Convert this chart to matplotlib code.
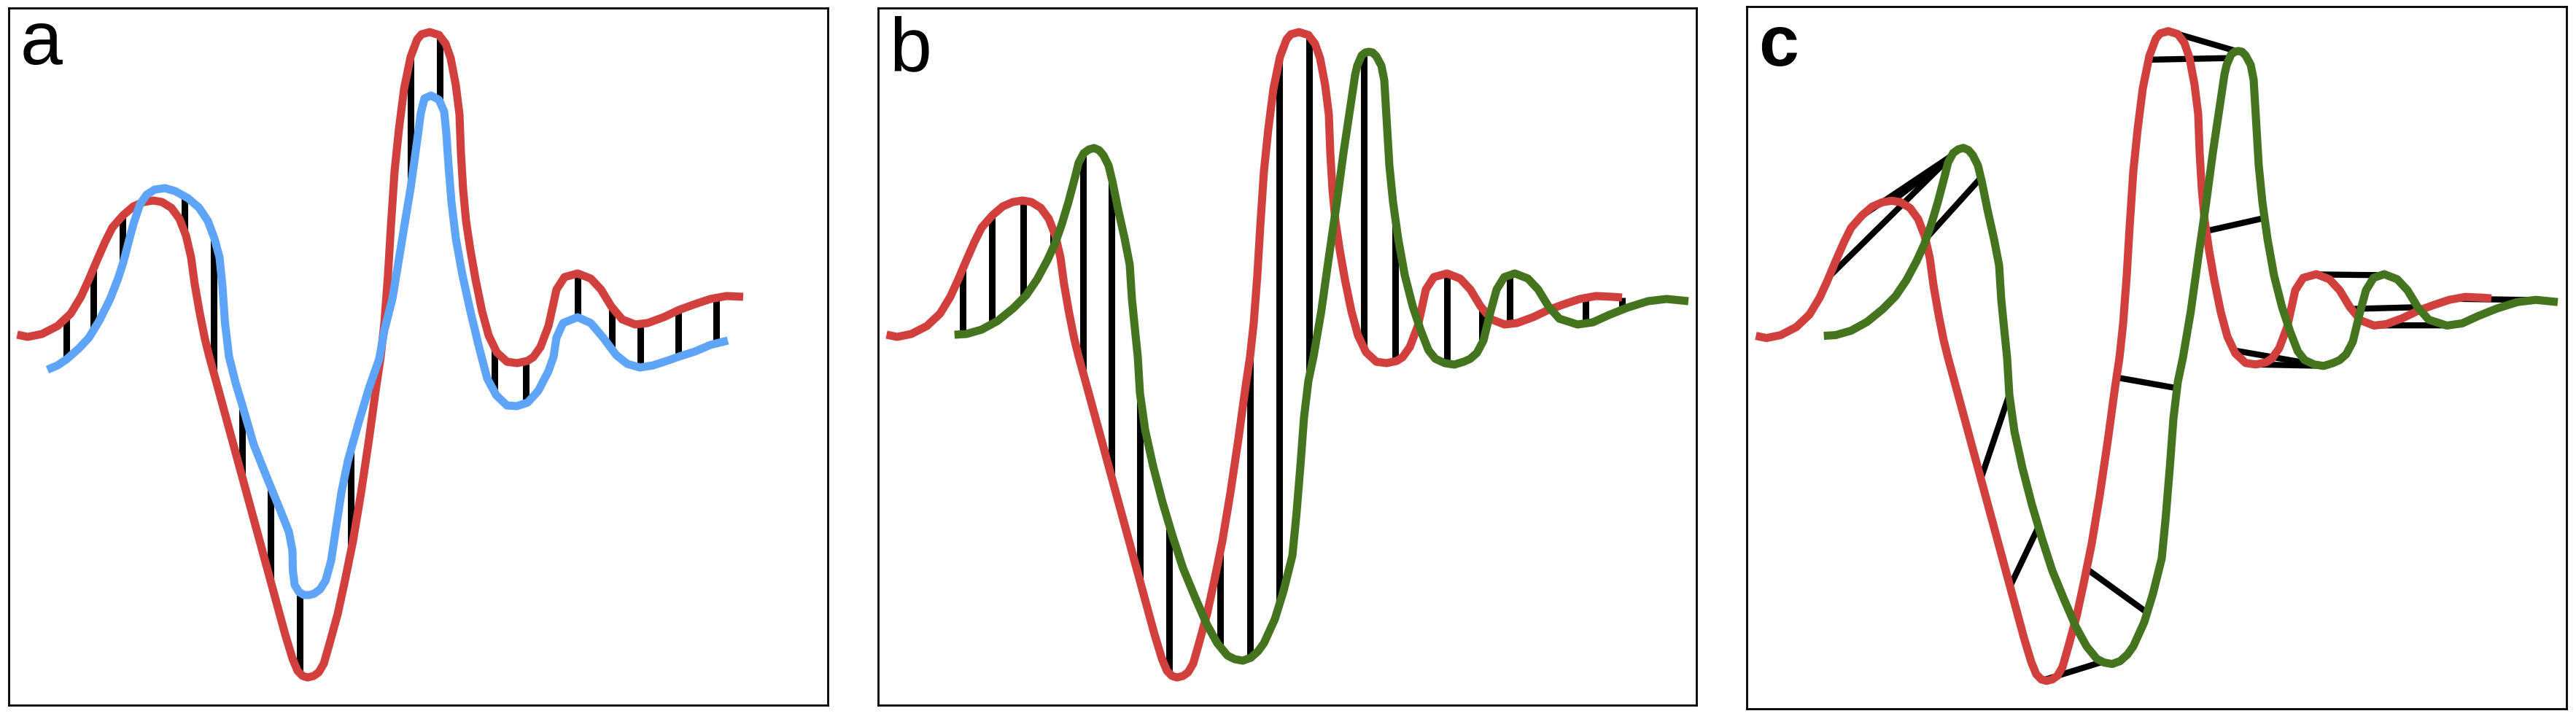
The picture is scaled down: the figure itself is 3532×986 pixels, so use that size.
import matplotlib
matplotlib.use("Agg")
import matplotlib.pyplot as plt
from matplotlib.collections import LineCollection
import numpy as np

# ---------------- data (time in samples, amplitude in arbitrary units) ----------------
red_t = [12.5, 27, 46.6, 68, 86, 100, 111, 122, 133, 143,
         158, 172, 186, 199, 211, 224, 235, 244, 251, 256,
         263, 270, 276, 290, 305, 320, 335, 350, 365, 380,
         390, 397, 404, 411, 419, 426, 433, 441, 452, 462,
         473, 484, 495, 505, 511, 516, 521, 525, 530, 536,
         543, 552, 561, 567, 578, 591, 600, 607, 614, 619,
         621, 624, 628, 634, 641, 650, 659, 670, 684, 698,
         712, 720, 730, 741, 747, 752, 763, 781, 799, 813,
         827, 842, 860, 877, 899, 920, 942, 963, 985, 1008,
         1021]
red_v = [1, -2, 2, 13, 30, 53, 77, 103, 128, 148,
         165, 177, 183, 185, 183, 175, 160, 137, 107, 70,
         30, -5, -29, -80, -135, -190, -245, -300, -355, -410,
         -443, -460, -467, -469, -467, -462, -450, -422, -382, -336,
         -282, -216, -142, -69, -29, 17, 83, 150, 225, 283,
         338, 382, 406, 413, 416, 412, 400, 380, 343, 303,
         250, 200, 157, 117, 77, 33, 0, -23, -36, -38,
         -35, -30, -16, 13, 40, 63, 80, 85, 78, 63,
         40, 22, 15, 17, 25, 35, 43, 50, 54, 53,
         52]

blue_t = [54, 68, 80, 97, 111, 125, 140, 150.5, 158, 165,
          172, 181, 190, 201, 215, 229, 247, 262, 274, 283,
          290, 294, 297.5, 303, 312, 321, 337, 355, 373, 385,
          390, 390.5, 393, 399, 406, 413, 420, 428, 435.5, 443,
          450, 457, 466, 480, 495, 509, 516, 527, 538, 545,
          552, 557, 562, 566, 571, 580, 591, 598, 601, 604,
          608, 614, 623, 634, 646, 657, 669.5, 684, 697.5, 712.5,
          727, 741, 748, 752, 761, 781, 799, 816, 834, 849,
          866.6, 884.6, 906, 920, 942, 963, 987]
blue_v = [-47, -41, -33, -18, -3, 20, 50, 77, 100, 127,
          153, 180, 193, 200, 202, 198, 188, 175, 157, 133,
          107, 67, 17, -29, -65, -95, -150, -195, -239, -269,
          -295, -322, -342, -352, -356, -356, -354, -348, -336, -309,
          -262, -216, -172, -122, -72, -32, 7, 50, 117, 160,
          202, 238, 275, 305, 325, 329, 323, 307, 277, 233,
          183, 133, 83, 33, -17, -59, -82, -96, -97, -92,
          -76, -49, -29, -3, 17, 25, 17, -3, -27, -39,
          -44, -41, -34, -29, -22, -13, -7]

green_t = [105.7, 122, 143, 165, 186, 204, 219, 233, 244, 253,
           262, 271, 276, 283, 290, 297, 304, 310, 317, 322.5,
           330, 339, 346, 349, 353, 357, 360, 367, 378, 391,
           405, 419, 435.5, 451.6, 466, 480, 490, 501, 512, 522,
           530, 545, 557, 562, 569, 574.5, 580, 585, 591, 598,
           608.6, 619, 630, 639, 648, 655, 658, 664, 669, 674,
           679, 684, 691, 695, 698, 702, 707, 714, 723, 734,
           745, 755.5, 765, 778, 791, 804, 813, 822, 831, 840,
           849, 859.5, 874, 892, 906, 920, 935, 960, 981, 1003,
           1028, 1056.6, 1082, 1112]
green_v = [1, 2, 8, 20, 37, 55, 77, 103, 127, 153,
           183, 217, 237, 250, 255, 257, 254, 247, 233, 210,
           173, 133, 97, 50, 10, -29, -79, -129, -179, -229,
           -276, -319, -359, -396, -422, -439, -444, -446, -442, -433,
           -422, -389, -350, -330, -302, -246, -179, -112, -62, -29,
           33, 107, 183, 250, 310, 357, 370, 384, 388, 389,
           388, 383, 370, 350, 300, 233, 183, 133, 83, 40,
           7, -20, -32, -38, -40, -36, -32, -24, -7, 30,
           63, 80, 85, 78, 63, 40, 23, 15, 18, 28,
           38, 47, 50, 47]

# sample times joined by straight vertical lines (panels a, b)
a_lines_t = [80, 117, 157, 242, 282, 321, 360, 400, 470, 552,
             592, 667, 710, 781, 828, 867, 919, 971]
b_lines_t = [117, 157, 200, 241, 282, 321, 360, 400, 470, 511,
             551, 592, 667, 710, 781, 829, 867, 971, 1021]

# warping path pairs (panel c): red sample time -> green sample time
c_red_t = [113, 157, 200, 245, 321, 361, 407, 466, 507, 551,
           586, 630, 668, 698, 782, 829, 862, 971]
c_green_t = [281, 281, 281, 321, 360, 400, 488, 549, 590, 662,
             672, 710, 786, 790, 870, 920, 962, 1080]

panel_labels = ["a", "b", "c"]

# ---------------- styling ----------------
W, H, DPI = 3532, 987, 100
RED = "#D1403D"
BLUE = "#5EA4F9"
GREEN = "#45741F"
CURVE_LW = 8.0
LINK_LW = 6.5
WARP_LW = 6.0
FRAME_LW = 2.0
RED_END_A = 1008

fig = plt.figure(figsize=(W / DPI, H / DPI), dpi=DPI)
fig.patch.set_facecolor("white")


def px_axes(left, right, top, bottom):
    return fig.add_axes([left / W, 1 - bottom / H, (right - left) / W, (bottom - top) / H])


ax_a = px_axes(12, 1135, 11.5, 968)
ax_b = px_axes(1204, 2326, 11.5, 968)
ax_c = px_axes(2395, 3519, 10, 973)

ax_a.set_xlim(1, 1124)
ax_b.set_xlim(1, 1123)
ax_c.set_xlim(0, 1124)
for ax in (ax_a, ax_b, ax_c):
    ax.set_ylim(-507, 449.5)
    ax.set_xticks([])
    ax.set_yticks([])
    for s in ax.spines.values():
        s.set_linewidth(FRAME_LW)
        s.set_color("black")

red_t_arr = np.array(red_t, dtype=float)
red_v_arr = np.array(red_v, dtype=float)


def curve(ax, t, v, color, z):
    ax.plot(t, v, color=color, lw=CURVE_LW, solid_capstyle="butt",
            solid_joinstyle="round", zorder=z)


# panel a
ya1 = np.interp(a_lines_t, red_t, red_v)
ya2 = np.interp(a_lines_t, blue_t, blue_v)
ax_a.vlines(a_lines_t, ya1, ya2, color="black", lw=LINK_LW, zorder=1)
mask = red_t_arr <= RED_END_A
curve(ax_a, red_t_arr[mask], red_v_arr[mask], RED, 2)
curve(ax_a, blue_t, blue_v, BLUE, 3)

# panel b
yb1 = np.interp(b_lines_t, red_t, red_v)
yb2 = np.interp(b_lines_t, green_t, green_v)
ax_b.vlines(b_lines_t, yb1, yb2, color="black", lw=LINK_LW, zorder=1)
curve(ax_b, red_t, red_v, RED, 2)
curve(ax_b, green_t, green_v, GREEN, 3)

# panel c
yc1 = np.interp(c_red_t, red_t, red_v)
yc2 = np.interp(c_green_t, green_t, green_v)
segs = [[(tr, vr), (tg, vg)] for tr, vr, tg, vg in zip(c_red_t, yc1, c_green_t, yc2)]
ax_c.add_collection(LineCollection(segs, colors="black", linewidths=WARP_LW,
                                   capstyle="butt", zorder=1))
curve(ax_c, red_t, red_v, RED, 2)
curve(ax_c, green_t, green_v, GREEN, 3)

# panel labels
lab_pos = [(0.0135, 0.920, "normal", 75), (0.0140, 0.911, "normal", 75), (0.0140, 0.917, "bold", 71)]
for ax, lab, (x, y, wt, fs) in zip((ax_a, ax_b, ax_c), panel_labels, lab_pos):
    ax.text(x, y, lab, transform=ax.transAxes, fontsize=fs, fontweight=wt,
            family=["Liberation Sans", "DejaVu Sans"], va="baseline", ha="left", zorder=5)

fig.savefig("out.png", dpi=DPI, facecolor="white")
